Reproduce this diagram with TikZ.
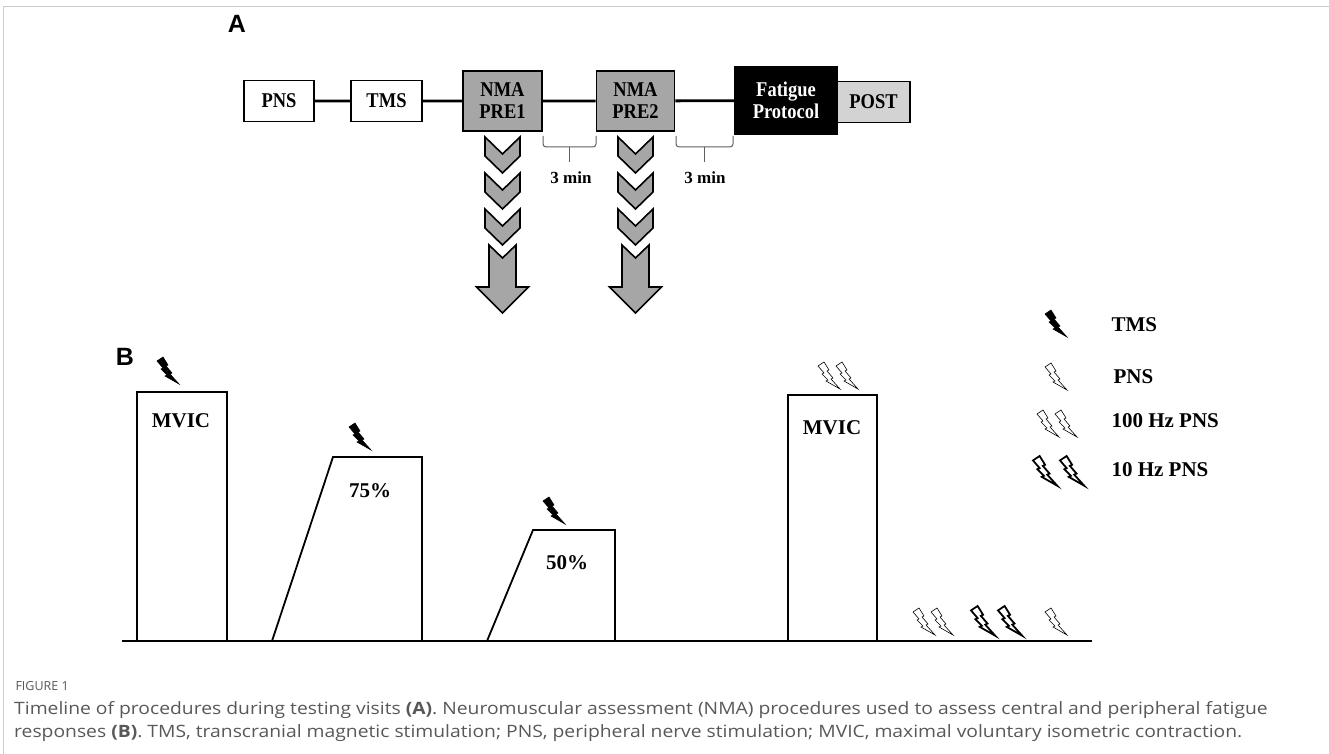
\documentclass[tikz,border=0pt]{standalone}
\usepackage{fontspec}
\setmainfont{Liberation Serif}
\newfontfamily\panelfont{Liberation Sans}
\newfontfamily\narrowserif[FakeStretch=0.88]{Liberation Serif}
\newfontfamily\capfont[FakeStretch=1.135]{Open Sans}
\newfontfamily\figfont{Open Sans}
\usetikzlibrary{positioning}

\definecolor{nmagray}{RGB}{166,166,166}
\definecolor{postgray}{RGB}{211,211,211}
\definecolor{framegray}{RGB}{205,205,205}
\definecolor{capgray}{RGB}{88,88,88}
\definecolor{bracegray}{RGB}{95,95,95}

\tikzset{
  stagebox/.style={draw, line width=1.6pt, inner sep=0pt, align=center,
    font=\narrowserif\bfseries\fontsize{21}{22}\selectfont},
  timeline/.style={line width=2.8pt},
  bracket/.style={draw=bracegray, line width=1pt, rounded corners=3pt},
  chevron/.style={fill=nmagray, draw=black, line width=1.6pt, line join=miter},
  level/.style={line width=1.8pt, line join=miter},
  bartext/.style={font=\bfseries\fontsize{21}{24}\selectfont},
  legendtext/.style={font=\bfseries\fontsize{21}{24}\selectfont, anchor=west},
  panel/.style={font=\panelfont\bfseries\fontsize{25}{28}\selectfont},
  bolt/.pic={
    \path[pic actions] (0,4) -- (6,0) -- (11,8) -- (9,9) -- (15,16) -- (13,17)
      -- (22,27) -- (8,19) -- (10,18) -- (4,12) -- (6,11) -- cycle;
  },
  tmsbolt/.style={fill=black, draw=black, line width=0.6pt, line join=miter},
  pnsbolt/.style={fill=white, draw=black, line width=0.6pt, line join=miter},
  hzbolt/.style={fill=white, draw=black, line width=1.8pt, line join=miter, scale=1.1},
}

\begin{document}
\begin{tikzpicture}[x=1pt, y=-1pt]
  \useasboundingbox (0,0) rectangle (1329,754);
  % frame of the figure
  \draw[framegray, line width=1pt] (3,754) -- (3,7) -- (1329,7);

  % ---- panel A: timeline ----
  \node[panel] (lblA) at (237,24) {A};
  \node[stagebox, minimum width=70, minimum height=41] (pns) at (279,101) {PNS};
  \node[stagebox, minimum width=71, minimum height=41] (tms) at (386.5,101) {TMS};
  \node[stagebox, fill=nmagray, minimum width=79, minimum height=60] (pre1) at (502.5,101) {NMA\\PRE1};
  \node[stagebox, fill=nmagray, minimum width=78, minimum height=60] (pre2) at (635.5,101) {NMA\\PRE2};
  \node[stagebox, fill=black, text=white, minimum width=102, minimum height=67] (fatigue) at (786,100.5) {Fatigue\\Protocol};
  \node[stagebox, fill=postgray, minimum width=73, minimum height=41] (post) at (873.5,102) {POST};

  \draw[timeline] (pns) -- (tms) (tms) -- (pre1) (pre1) -- (pre2) (pre2) -- (fatigue);

  % rest periods
  \draw[bracket] (543,136) -- (543,147) -- (596,147) -- (596,136);
  \draw[bracegray, line width=1pt] (569.5,147) -- (569.5,162);
  \node[font=\bfseries\fontsize{17}{20}\selectfont] (rest1) at (571,178) {3 min};
  \draw[bracket] (676,136) -- (676,147) -- (733,147) -- (733,136);
  \draw[bracegray, line width=1pt] (704.5,147) -- (704.5,162);
  \node[font=\bfseries\fontsize{17}{20}\selectfont] (rest2) at (705,178) {3 min};

  % chevrons and arrows down to panel B
  \foreach \cx in {502.5,635.5}{
    \foreach \ty in {137,173,209}{
      \draw[chevron] (\cx-17.5,\ty) -- (\cx,\ty+17) -- (\cx+17.5,\ty) -- (\cx+17.5,\ty+19)
        -- (\cx,\ty+36) -- (\cx-17.5,\ty+19) -- cycle;
    }
    \draw[chevron] (\cx-13.5,245) -- (\cx,258) -- (\cx+13.5,245) -- (\cx+13.5,287)
      -- (\cx+26,287) -- (\cx,313) -- (\cx-26,287) -- (\cx-13.5,287) -- cycle;
  }

  % ---- panel B: contractions ----
  \node[panel] (lblB) at (125,357) {B};
  \draw[level] (122,641) -- (1092,641);
  \draw[level] (137,641) -- (137,392) -- (227,392) -- (227,641);
  \draw[level] (272,641) -- (333,457) -- (422,457) -- (422,641);
  \draw[level] (487,641) -- (533,530) -- (615,530) -- (615,641);
  \draw[level] (788,641) -- (788,395) -- (877,395) -- (877,641);

  \node[bartext] (mvic1) at (181,421) {MVIC};
  \node[bartext] (sub75) at (370,491) {75\%};
  \node[bartext] (sub50) at (567,563) {50\%};
  \node[bartext] (mvic2) at (832,428) {MVIC};

  \pic[tmsbolt] at (157,357) {bolt};
  \pic[tmsbolt] at (349,423) {bolt};
  \pic[tmsbolt] at (543,497) {bolt};
  \pic[pnsbolt] at (818,362) {bolt};
  \pic[pnsbolt] at (836,362) {bolt};

  \pic[pnsbolt] at (913,608) {bolt};
  \pic[pnsbolt] at (931,608) {bolt};
  \pic[hzbolt] at (971,606) {bolt};
  \pic[hzbolt] at (998,606) {bolt};
  \pic[pnsbolt] at (1045,608) {bolt};

  % legend
  \pic[tmsbolt] at (1045,310) {bolt};
  \node[legendtext] (legtms) at (1108,325) {TMS};
  \pic[pnsbolt] at (1045,363) {bolt};
  \node[legendtext] (legpns) at (1110,377) {PNS};
  \pic[pnsbolt] at (1037,410) {bolt};
  \pic[pnsbolt] at (1055,410) {bolt};
  \node[legendtext] (leghund) at (1108,421) {100 Hz PNS};
  \pic[hzbolt] at (1033,456) {bolt};
  \pic[hzbolt] at (1060,456) {bolt};
  \node[legendtext] (legten) at (1108,470) {10 Hz PNS};

  % caption
  \node[anchor=west, text=capgray, font=\figfont\fontsize{12.5}{15}\selectfont] (figno) at (12,686) {FIGURE 1};
  \node[anchor=north west, align=left, inner sep=0pt, text=capgray,
    font=\capfont\fontsize{17}{23}\selectfont] (caption) at (14,701)
    {Timeline of procedures during testing visits \textbf{(A)}. Neuromuscular assessment (NMA) procedures used to assess central and peripheral fatigue\\
     responses \textbf{(B)}. TMS, transcranial magnetic stimulation; PNS, peripheral nerve stimulation; MVIC, maximal voluntary isometric contraction.};
\end{tikzpicture}
\end{document}
